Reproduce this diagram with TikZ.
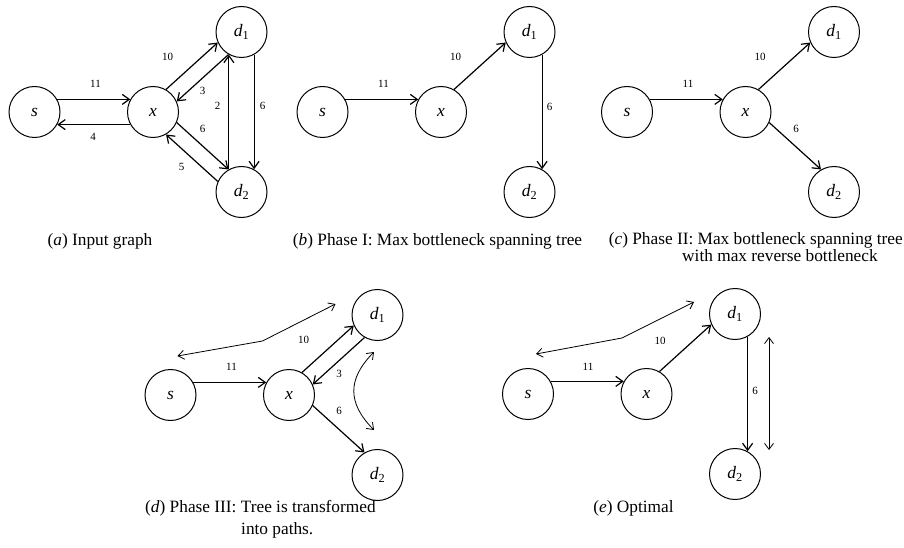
\documentclass[tikz,border=0pt]{standalone}
\usepackage{fontspec}
\setmainfont{Liberation Serif}
\usetikzlibrary{arrows.meta}
\newcommand{\dn}[1]{\textit{d}\textsubscript{\upshape #1}}

\begin{document}
\begin{tikzpicture}[x=1pt,y=-1pt,
  vert/.style={circle,draw,line width=1pt,minimum size=51pt,inner sep=0pt,
    font=\fontsize{17.5}{20}\selectfont},
  conn/.style={line width=1.2pt,-{Straight Barb[length=7pt,width=10pt]}},
  hint/.style={line width=0.8pt,
    {Straight Barb[length=6pt,width=9pt]}-{Straight Barb[length=6pt,width=9pt]}},
  lbl/.style={font=\fontsize{11}{13}\selectfont,inner sep=0pt},
  captxt/.style={font=\fontsize{17.3}{20}\selectfont,inner sep=0pt,anchor=base}
]
\useasboundingbox (0,0) rectangle (904,548);

% (a) input graph
\begin{scope}[shift={(34.5,112)},name prefix=a-]
  \node[vert] (s) at (0,0) {\textit{s}};
  \node[vert] (x) at (118.5,0) {\textit{x}};
  \node[vert] (d1) at (207,-80) {\dn1};
  \node[vert] (d2) at (207,80) {\dn2};
  \draw[conn] (s.29) -- (x.151);
  \draw[conn] (x.-151) -- (s.-29);
  \draw[conn] (x.60) -- (d1.204);
  \draw[conn] (d1.240) -- (x.24);
  \draw[conn] (x.-24) -- (d2.120);
  \draw[conn] (d2.156) -- (x.-60);
  \draw[conn] (d2.119) -- (d1.-119);
  \draw[conn] (d1.-61) -- (d2.61);
  \node[lbl] at (61,-28) {11};
  \node[lbl] at (58.5,25) {4};
  \node[lbl] at (133,-55) {10};
  \node[lbl] at (168,-21) {3};
  \node[lbl] at (168,16.5) {6};
  \node[lbl] at (147,55) {5};
  \node[lbl] at (183,-6) {2};
  \node[lbl] at (228,-6) {6};
\end{scope}

% (b) phase I
\begin{scope}[shift={(322.5,112)},name prefix=b-]
  \node[vert] (s) at (0,0) {\textit{s}};
  \node[vert] (x) at (118.5,0) {\textit{x}};
  \node[vert] (d1) at (207,-80) {\dn1};
  \node[vert] (d2) at (207,80) {\dn2};
  \draw[conn] (s.29) -- (x.151);
  \draw[conn] (x.60) -- (d1.204);
  \draw[conn] (d1.-61) -- (d2.61);
  \node[lbl] at (61,-28) {11};
  \node[lbl] at (133,-55) {10};
  \node[lbl] at (227,-5) {6};
\end{scope}

% (c) phase II
\begin{scope}[shift={(627,112)},name prefix=c-]
  \node[vert] (s) at (0,0) {\textit{s}};
  \node[vert] (x) at (118.5,0) {\textit{x}};
  \node[vert] (d1) at (207,-80) {\dn1};
  \node[vert] (d2) at (207,80) {\dn2};
  \draw[conn] (s.29) -- (x.151);
  \draw[conn] (x.60) -- (d1.204);
  \draw[conn] (x.-24) -- (d2.120);
  \node[lbl] at (61,-28) {11};
  \node[lbl] at (133,-55) {10};
  \node[lbl] at (169,16.5) {6};
\end{scope}

% (d) phase III
\begin{scope}[shift={(170.5,395)},name prefix=d-]
  \node[vert] (s) at (0,0) {\textit{s}};
  \node[vert] (x) at (118.5,0) {\textit{x}};
  \node[vert] (d1) at (207,-80) {\dn1};
  \node[vert] (d2) at (207,80) {\dn2};
  \draw[conn] (s.29) -- (x.151);
  \draw[conn] (x.60) -- (d1.204);
  \draw[conn] (d1.240) -- (x.24);
  \draw[conn] (x.-24) -- (d2.120);
  \node[lbl] at (61,-28) {11};
  \node[lbl] at (133,-55) {10};
  \node[lbl] at (168.5,-21) {3};
  \node[lbl] at (168.5,16) {6};
  \coordinate (pl) at (7,-39);
  \coordinate (pm) at (92,-54);
  \coordinate (pr) at (165,-91);
  \draw[hint] (pl) -- (pm) -- (pr);
  \coordinate (ct) at (203.5,-43);
  \coordinate (cb) at (203.5,35);
  \draw[hint] (ct) .. controls (176.8,-16) and (176.8,8) .. (cb);
\end{scope}

% (e) optimal
\begin{scope}[shift={(528,394)},name prefix=e-]
  \node[vert] (s) at (0,0) {\textit{s}};
  \node[vert] (x) at (118.5,0) {\textit{x}};
  \node[vert] (d1) at (207,-80) {\dn1};
  \node[vert] (d2) at (207,80) {\dn2};
  \draw[conn] (s.29) -- (x.151);
  \draw[conn] (x.60) -- (d1.204);
  \draw[conn] (d1.-61) -- (d2.61);
  \node[lbl] at (60,-27) {11};
  \node[lbl] at (132,-53) {10};
  \node[lbl] at (227,-3) {6};
  \coordinate (pl) at (8,-40);
  \coordinate (pm) at (94,-56);
  \coordinate (pr) at (166,-92);
  \draw[hint] (pl) -- (pm) -- (pr);
  \coordinate (vt) at (241,-57);
  \coordinate (vb) at (241,56);
  \draw[hint] (vt) -- (vb);
\end{scope}

% captions
\node[captxt] (capa) at (100,245) {(\textit{a}) Input graph};
\node[captxt] (capb) at (437.5,245) {(\textit{b}) Phase I: Max bottleneck spanning tree};
\node[captxt,anchor=base east] (capc1) at (903,244) {(\textit{c}) Phase II: Max bottleneck spanning tree};
\node[captxt,anchor=base west] (capc2) at (682,261) {with max reverse bottleneck};
\node[captxt,anchor=base west] (capd1) at (145,512) {(\textit{d}) Phase III: Tree is transformed};
\node[captxt,anchor=base west] (capd2) at (241,534) {into paths.};
\node[captxt] (cape) at (633.5,512) {(\textit{e}) Optimal};
\end{tikzpicture}
\end{document}
